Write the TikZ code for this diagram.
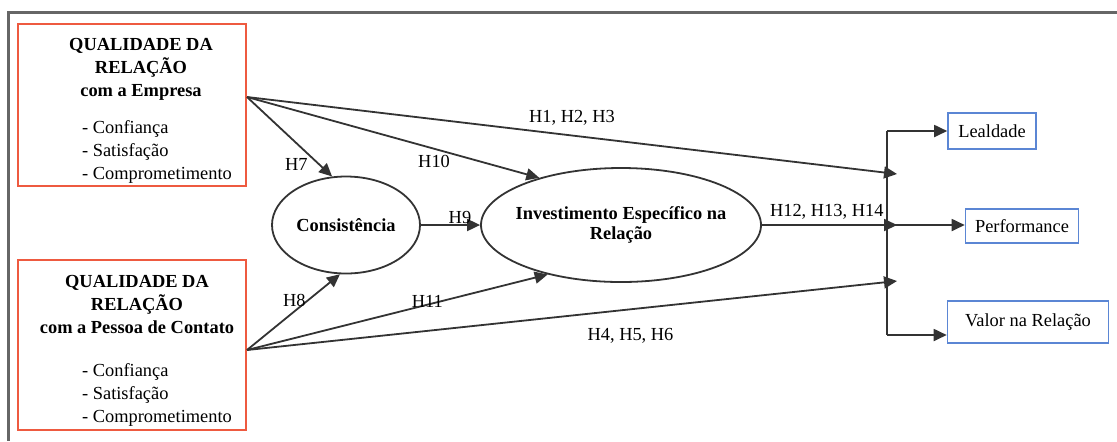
\documentclass[tikz,border=0pt]{standalone}
\usepackage{fontspec}
\setmainfont{Liberation Serif}
\definecolor{qrRed}{HTML}{EE5A40}
\definecolor{qrBlue}{HTML}{5B86D4}
\definecolor{qrLine}{HTML}{333333}
\definecolor{qrFrame}{HTML}{666666}
\usetikzlibrary{calc,arrows.meta,shapes.geometric}

\begin{document}
\begin{tikzpicture}[x=0.5pt, y=-0.5pt,
  font=\fontsize{9.2}{11.5}\selectfont,
  redbox/.style={draw=qrRed, line width=1pt, minimum width=114pt,
    align=center, inner sep=0pt},
  bluebox/.style={draw=qrBlue, line width=0.8pt, inner sep=0pt},
  construct/.style={ellipse, draw=qrLine, line width=0.9pt, inner sep=0pt,
    align=center, font=\fontsize{9.2}{10}\selectfont\bfseries},
  arr/.style={-{Triangle[length=6.5pt, width=6pt]}, line width=0.9pt, draw=qrLine},
  lbl/.style={inner sep=0pt}
]
  \useasboundingbox (0,0) rectangle (1117,441);
  \draw[qrFrame, line width=1.5pt] (1117,12.5) -- (8.5,12.5) -- (8.5,441);

  % antecedentes
  \node[redbox, minimum height=80pt] (empresa) at (132,105) {%
    \hspace*{9pt}\begin{tabular}{@{}c@{}}
      \rule{0pt}{13pt}\textbf{QUALIDADE DA}\\
      \textbf{RELAÇÃO}\\
      \textbf{com a Empresa}\\[7pt]
      \hspace*{16pt}\begin{tabular}{@{}l@{}}- Confiança\\- Satisfação\\- Comprometimento\end{tabular}
    \end{tabular}%
  };
  \node[redbox, minimum height=85pt] (pessoa) at (132,345) {%
    \hspace*{5pt}\begin{tabular}{@{}c@{}}
      \rule{0pt}{13pt}\textbf{QUALIDADE DA}\\
      \textbf{RELAÇÃO}\\
      \textbf{com a Pessoa de Contato}\\[10pt]
      \hspace*{20pt}\begin{tabular}{@{}l@{}}- Confiança\\- Satisfação\\- Comprometimento\end{tabular}
    \end{tabular}%
  };

  % mediadores
  \node[construct, minimum width=74pt, minimum height=48.5pt] (consist) at (346,225) {Consistência};
  \node[construct, minimum width=140pt, minimum height=57pt] (invest) at (621,225) {
    \makebox[60pt]{Investimento Específico na}\\Relação
  };

  % consequentes
  \node[bluebox, minimum width=44pt, minimum height=18pt] (lealdade) at (992,131) {Lealdade};
  \node[bluebox, minimum width=56.5pt, minimum height=17pt] (perf) at (1022,226) {Performance};
  \node[bluebox, minimum width=80.5pt, minimum height=21pt] (valor) at (1028,322) {Valor na Relação};

  \coordinate (empOut) at ([yshift=4pt]empresa.east);
  \coordinate (pesOut) at ([yshift=-2.5pt]pessoa.east);
  \coordinate (barTop) at (887,131);
  \coordinate (barMid) at (887,225);
  \coordinate (barBot) at (887,335);
  \coordinate (inTop) at (897,174);
  \coordinate (inMid) at (897,225);
  \coordinate (inBot) at (897,281);

  \draw[arr] (empOut) -- (consist.106) node[lbl, pos=0.85, xshift=-11.5pt] (h7) {H7};
  \draw[arr] (empOut) -- (invest.150) node[lbl, pos=0.64, yshift=-6.5pt] (h10) {H10};
  \draw[arr] (empOut) -- (inTop) node[lbl, pos=0.5, yshift=8.75pt] (h1) {H1, H2, H3};
  \draw[arr] (pesOut) -- (consist.263) node[lbl, pos=0.65, xshift=-6.5pt] (h8) {H8};
  \draw[arr] (pesOut) -- (invest.214) node[lbl, pos=0.6, yshift=1.5pt] (h11) {H11};
  \draw[arr] (pesOut) -- (inBot) node[lbl, pos=0.59, yshift=-13.5pt] (h4) {H4, H5, H6};
  \draw[arr] (consist) -- (invest) node[lbl, pos=0.66, yshift=3.75pt] (h9) {H9};
  \draw[arr] (invest) -- (inMid) node[lbl, pos=0.48, yshift=6.5pt] (h12) {H12, H13, H14};

  \draw[qrLine, line width=0.9pt] (barTop) -- (barBot);
  \draw[arr] (barTop) -- (lealdade.west);
  \draw[arr] (barMid) -- (barMid -| perf.west);
  \draw[arr] (barBot) -- (barBot -| valor.west);
\end{tikzpicture}
\end{document}
